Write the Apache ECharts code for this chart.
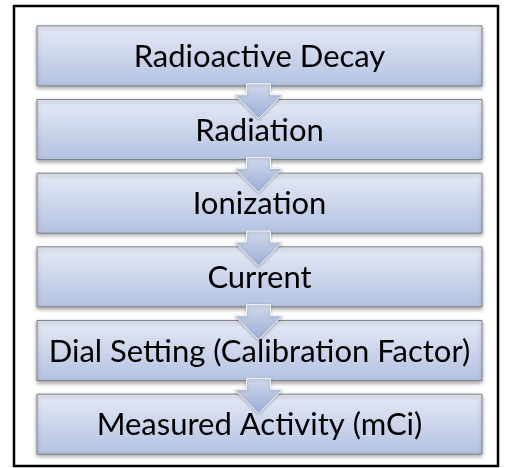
<!DOCTYPE html>
<html>
<head>
<meta charset="utf-8">
<script src="https://cdn.jsdelivr.net/npm/echarts@6/dist/echarts.min.js"></script>
<style>
  html, body { margin: 0; padding: 0; background: #fff; }
  #chart { width: 505px; height: 468px; }
</style>
</head>
<body>
<div id="chart"></div>
<script>
// flow steps, top to bottom
var steps = [
  "Radioactive Decay",
  "Radiation",
  "Ionization",
  "Current",
  "Dial Setting (Calibration Factor)",
  "Measured Activity (mCi)"
];
// one arrow after every step except the last
var links = steps.slice(0, -1).map(function (s, i) { return [i, i + 1]; });

var chart = echarts.init(document.getElementById("chart"));

function boxItem(params, api) {
  var idx = api.value(0);
  var c = api.coord([0, idx]);
  var end = api.coord([1, idx]);
  var band = api.size([0, 1])[1];
  var h = band * 0.815;
  return {
    type: "rect",
    shape: { x: c[0], y: c[1] - h / 2, width: end[0] - c[0], height: h },
    style: {
      fill: new echarts.graphic.LinearGradient(0, 0, 0, 1, [
        { offset: 0, color: "#e5eaf5" },
        { offset: 1, color: "#b3c2e1" }
      ]),
      stroke: "#7f838b",
      lineWidth: 1,
      shadowBlur: 4,
      shadowOffsetY: 2,
      shadowColor: "rgba(0,0,0,0.35)"
    },
    textContent: {
      style: {
        text: steps[idx],
        fontFamily: "Lato",
        fontSize: 31,
        fill: "#000"
      }
    },
    textConfig: { position: "inside", offset: [0, 1] }
  };
}

function arrowItem(params, api) {
  var from = api.value(0);
  var c = api.coord([0.5, from]);
  var band = api.size([0, 1])[1];
  var cx = c[0] - 1;
  var b = c[1] + band / 2;
  return {
    type: "polygon",
    shape: {
      points: [
        [cx - 12, b - 9], [cx + 12, b - 9], [cx + 12, b + 2], [cx + 24, b + 2],
        [cx, b + 26], [cx - 24, b + 2], [cx - 12, b + 2]
      ]
    },
    style: {
      fill: new echarts.graphic.LinearGradient(0, 0, 0, 1, [
        { offset: 0, color: "#d0d9ec" },
        { offset: 1, color: "#9badd5" }
      ]),
      stroke: "#f4f6fb",
      lineWidth: 1,
      shadowBlur: 3,
      shadowOffsetY: 1,
      shadowColor: "rgba(0,0,0,0.25)"
    }
  };
}

chart.setOption({
  animation: false,
  graphic: [{
    type: "rect",
    shape: { x: 14, y: 6, width: 484, height: 460 },
    style: { fill: null, stroke: "#000", lineWidth: 2.5 },
    z: -1
  }],
  grid: { left: 37, right: 23, top: 19, bottom: 7 },
  xAxis: { type: "value", min: 0, max: 1, show: false },
  yAxis: { type: "category", data: steps, inverse: true, show: false },
  series: [
    {
      type: "custom",
      renderItem: boxItem,
      data: steps.map(function (s, i) { return [i]; }),
      z: 2
    },
    {
      type: "custom",
      renderItem: arrowItem,
      data: links,
      z: 3
    }
  ]
});
</script>
</body>
</html>
